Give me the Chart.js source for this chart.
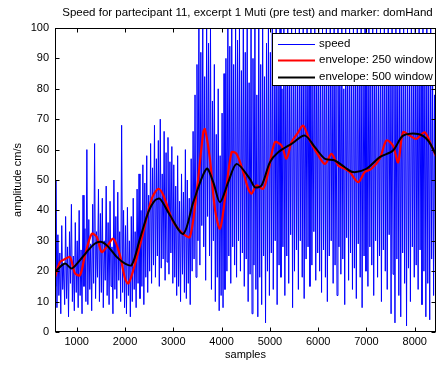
<!DOCTYPE html>
<html><head><meta charset="utf-8">
<script src="https://cdn.jsdelivr.net/npm/chart.js@4.4.0/dist/chart.umd.min.js"></script>
<style>html,body{margin:0;padding:0;background:#fff}#wrap{width:437px;height:365px;position:relative}</style>
</head><body><div id="wrap"><canvas id="c" width="437" height="365"></canvas></div>
<script>
const chartTitle = "Speed for partecipant 11, excerpt 1 Muti (pre test) and marker: domHand";
const xAxisLabel = "samples";
const yAxisLabel = "amplitude cm/s";
const seriesLabels = ["speed", "envelope: 250 window", "envelope: 500 window"];
const xTicks = [1000, 2000, 3000, 4000, 5000, 6000, 7000, 8000];
const yTicks = [0, 10, 20, 30, 40, 50, 60, 70, 80, 90, 100];

// speed: one value every 20 samples starting at sample 550
const speedStart = 550;
const speedStep = 20;
const speedValues = [
  15, 50, 8, 32, 12, 26, 6, 35, 14, 22, 9, 38, 11, 28, 5, 33, 16, 42, 10, 25, 7, 36, 13,
  30, 8, 40, 12, 27, 6, 45, 15, 34, 10, 60, 9, 37, 14, 29, 7, 42, 16, 62, 11, 33, 18, 47, 10, 39,
  13, 44, 8, 30, 17, 48, 12, 36, 9, 43, 15, 28, 6, 50, 14, 38, 11, 46, 17, 33, 10, 68, 13, 40, 8,
  35, 6, 41, 12, 30, 5, 38, 10, 44, 14, 33, 8, 47, 16, 52, 11, 40, 15, 55, 9, 49, 18, 58, 13, 45,
  20, 62, 16, 54, 22, 68, 18, 57, 25, 63, 15, 70, 21, 52, 24, 66, 17, 59, 23, 64, 19, 56, 26, 61, 16,
  55, 18, 48, 12, 58, 15, 43, 10, 52, 19, 46, 13, 60, 11, 50, 16, 44, 9, 57, 20, 66, 24, 78, 18, 88,
  30, 100, 22, 92, 35, 100, 28, 84, 17, 100, 38, 95, 25, 100, 14, 76, 30, 88, 10, 65, 18, 80, 7, 58, 12,
  72, 8, 85, 14, 90, 20, 100, 25, 94, 16, 100, 28, 88, 22, 100, 18, 96, 30, 100, 20, 86, 26, 100, 15, 92,
  24, 100, 10, 82, 19, 100, 6, 90, 22, 100, 14, 78, 5, 100, 18, 88, 9, 100, 25, 84, 3, 95, 20, 100, 12,
  92, 26, 100, 14, 86, 30, 100, 9, 95, 22, 100, 18, 80, 28, 100, 12, 90, 25, 100, 16, 88, 32, 100, 8, 94,
  20, 100, 27, 84, 14, 100, 30, 92, 18, 100, 11, 86, 24, 100, 28, 90, 15, 100, 22, 82, 33, 100, 17, 96, 26,
  100, 20, 88, 13, 100, 27, 94, 18, 100, 10, 84, 25, 100, 30, 90, 16, 100, 22, 86, 12, 100, 28, 96, 19, 100,
  24, 80, 9, 100, 31, 92, 17, 100, 26, 88, 14, 100, 21, 95, 11, 100, 29, 84, 18, 100, 8, 90, 25, 100, 20,
  94, 15, 100, 28, 86, 22, 100, 12, 92, 30, 100, 18, 82, 25, 100, 10, 96, 27, 100, 20, 88, 14, 100, 32, 90,
  6, 100, 19, 84, 3, 100, 24, 92, 12, 100, 5, 88, 26, 100, 16, 94, 2, 100, 21, 86, 10, 100, 28, 90, 18,
  100, 22, 92, 14, 100, 27, 86, 9, 100, 20, 95, 5, 100, 16, 88, 4, 100, 24, 84, 12, 78, 20
];

const env250Samples = [550, 653, 760, 860, 964, 1068, 1171, 1310, 1413, 1517, 1620, 1758, 1896, 2000, 2068, 2171, 2345, 2552, 2689, 2793, 3000, 3207, 3345, 3483, 3620, 3655, 3758, 3862, 3966, 4070, 4207, 4310, 4448, 4552, 4620, 4724, 4862, 4965, 5103, 5241, 5344, 5448, 5586, 5689, 5827, 5965, 6140, 6275, 6413, 6550, 6654, 6827, 6965, 7103, 7275, 7413, 7551, 7655, 7758, 7896, 8034, 8206, 8344, 8448];
const env250Values = [18, 23, 24, 24.7, 19.3, 18.7, 25.2, 32.3, 31.3, 26.3, 28, 30.7, 25.2, 17.6, 16, 20.3, 30.7, 43.8, 47.1, 45, 36.2, 32.3, 31.3, 46, 65.7, 66.8, 57, 40.5, 34, 43.8, 59.1, 58.6, 52.6, 47.1, 45.5, 48.2, 47.1, 52.6, 62.4, 61.3, 57, 62.4, 65.7, 67.9, 63, 59.1, 55.3, 58.6, 54.8, 53.7, 52.6, 49.3, 52.6, 53.7, 57, 63, 61.3, 55.8, 65.7, 64.6, 63.5, 65.7, 61.3, 57.5];

const env500Samples = [550, 757, 895, 1033, 1206, 1379, 1517, 1655, 1827, 2000, 2137, 2310, 2483, 2620, 2724, 2931, 3207, 3414, 3689, 3827, 3966, 4138, 4310, 4586, 4690, 4827, 5000, 5172, 5448, 5724, 5931, 6138, 6344, 6550, 6723, 6999, 7275, 7551, 7758, 8068, 8275, 8448];
const env500Values = [19.8, 22.5, 20.9, 23, 26.3, 29.1, 29.6, 28, 24.7, 22.5, 22, 30.7, 39.4, 43.3, 43.8, 38.4, 32.3, 42.7, 53.7, 49.3, 42.7, 49.3, 55.3, 50.4, 47.6, 48.2, 55.8, 59.1, 61.9, 64.6, 60.8, 57, 56.4, 54.2, 52.6, 53.7, 57.5, 59.7, 64.6, 65.1, 63, 58];

const FONT = '"Liberation Sans", Arial, Helvetica, sans-serif';

const speedData = speedValues.map((v, i) => ({x: speedStart + i * speedStep, y: v}));
const env250Data = env250Samples.map((s, i) => ({x: s, y: env250Values[i]}));
const env500Data = env500Samples.map((s, i) => ({x: s, y: env500Values[i]}));

const decor = {
  id: 'decor',
  afterDraw(chart) {
    const ctx = chart.ctx;
    const a = chart.chartArea;
    const xs = chart.scales.x, ys = chart.scales.y;
    ctx.save();
    ctx.fillStyle = '#000';
    ctx.font = '11.5px ' + FONT;
    ctx.textAlign = 'center';
    ctx.textBaseline = 'middle';
    ctx.fillText(chartTitle, (a.left + a.right) / 2 + 2, 13);
    ctx.strokeStyle = '#000';
    ctx.lineWidth = 1;
    const L = Math.round(a.left) + 0.5, R = Math.round(a.right) - 0.5;
    const T = Math.round(a.top) + 0.5, B = Math.round(a.bottom) - 0.5;
    ctx.strokeRect(L, T, R - L, B - T);
    const tl = 4;
    ctx.beginPath();
    xTicks.forEach(v => {
      const px = Math.round(xs.getPixelForValue(v)) + 0.5;
      ctx.moveTo(px, B); ctx.lineTo(px, B - tl);
      ctx.moveTo(px, T); ctx.lineTo(px, T + tl);
    });
    yTicks.forEach(v => {
      const py = Math.round(ys.getPixelForValue(v)) + 0.5;
      ctx.moveTo(L, py); ctx.lineTo(L + tl, py);
      ctx.moveTo(R, py); ctx.lineTo(R - tl, py);
    });
    ctx.stroke();
    const lx = 272.5, ly = 33.5, lw = 163, lh = 52;
    ctx.fillStyle = '#fff';
    ctx.fillRect(lx, ly, lw, lh);
    ctx.strokeStyle = '#000';
    ctx.strokeRect(lx, ly, lw, lh);
    ctx.font = '11.5px ' + FONT;
    ctx.textAlign = 'left';
    ctx.textBaseline = 'middle';
    chart.data.datasets.forEach((ds, i) => {
      const y = 44 + i * 16.3;
      ctx.strokeStyle = ds.borderColor;
      ctx.lineWidth = ds.borderWidth;
      ctx.beginPath();
      ctx.moveTo(278, Math.round(y) + 0.5);
      ctx.lineTo(315, Math.round(y) + 0.5);
      ctx.stroke();
      ctx.fillStyle = '#000';
      ctx.fillText(ds.label, 319, y);
    });
    ctx.restore();
  }
};

new Chart(document.getElementById('c'), {
  type: 'line',
  data: {
    datasets: [
      {label: seriesLabels[0], data: speedData, borderColor: '#0000ff', borderWidth: 1, pointRadius: 0, tension: 0, order: 3},
      {label: seriesLabels[1], data: env250Data, borderColor: '#ff0000', borderWidth: 2.2, pointRadius: 0, tension: 0.3, order: 2},
      {label: seriesLabels[2], data: env500Data, borderColor: '#000000', borderWidth: 2, pointRadius: 0, tension: 0.3, order: 1}
    ]
  },
  options: {
    responsive: false,
    animation: false,
    devicePixelRatio: 1,
    layout: {padding: {top: 28, right: 1, left: 0, bottom: 0}},
    plugins: {legend: {display: false}, title: {display: false}, tooltip: {enabled: false}},
    scales: {
      x: {
        type: 'linear', min: 550, max: 8440,
        grid: {display: false, drawTicks: false},
        border: {display: false},
        afterBuildTicks: s => { s.ticks = xTicks.map(v => ({value: v})); },
        afterFit: s => { s.height = 33; },
        ticks: {color: '#000', font: {family: FONT, size: 11}, padding: 3, maxRotation: 0, autoSkip: false, callback: v => String(v)},
        title: {display: true, text: xAxisLabel, color: '#000', font: {family: FONT, size: 11}, padding: {top: 0, bottom: 3}}
      },
      y: {
        min: 0, max: 100,
        grid: {display: false, drawTicks: false},
        border: {display: false},
        afterBuildTicks: s => { s.ticks = yTicks.map(v => ({value: v})); },
        afterFit: s => { s.width = 55; },
        ticks: {color: '#000', font: {family: FONT, size: 11}, padding: 6, autoSkip: false, callback: v => String(v)},
        title: {display: true, text: yAxisLabel, color: '#000', font: {family: FONT, size: 11}, padding: {top: 11, bottom: 0}}
      }
    }
  },
  plugins: [decor]
});
</script>
</body></html>
